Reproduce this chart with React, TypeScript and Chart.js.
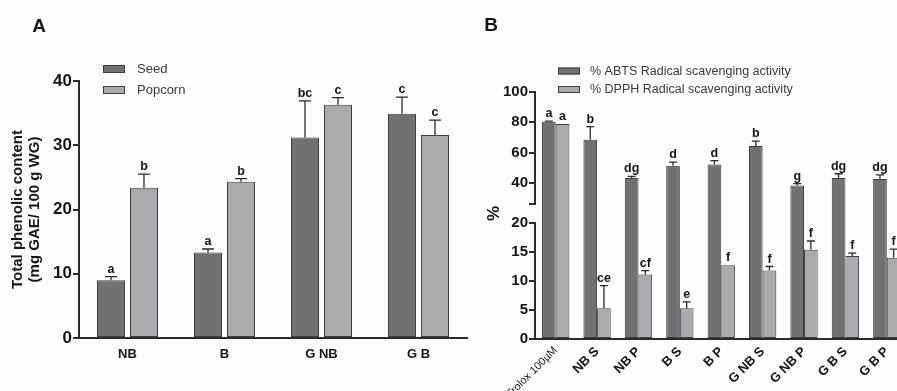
import React, { useEffect, useRef } from 'react';
import { Chart, registerables } from 'chart.js';

Chart.register(...registerables);

// ---------- Panel A data ----------
const A_CATEGORIES = ['NB', 'B', 'G NB', 'G B'];
const A_SERIES = ['Seed', 'Popcorn'];
const A_SEED = [9.0, 13.3, 31.2, 34.9];
const A_SEED_ERR = [0.55, 0.55, 5.7, 2.6];
const A_SEED_LETTERS = ['a', 'a', 'bc', 'c'];
const A_POPCORN = [23.4, 24.3, 36.3, 31.6];
const A_POPCORN_ERR = [2.1, 0.5, 1.1, 2.3];
const A_POPCORN_LETTERS = ['b', 'b', 'c', 'c'];
const A_Y_TICKS = [0, 10, 20, 30, 40];
const A_Y_TITLE = ['Total phenolic content', '(mg GAE/ 100 g WG)'];

// ---------- Panel B data ----------
const B_CATEGORIES = ['Trolox 100µM', 'NB S', 'NB P', 'B S', 'B P', 'G NB S', 'G NB P', 'G B S', 'G B P'];
const B_SERIES = ['% ABTS Radical scavenging activity', '% DPPH Radical scavenging activity'];
const B_ABTS = [80.3, 68.4, 43.1, 51.2, 52.1, 64.4, 38.2, 43.1, 42.6];
const B_ABTS_ERR = [0.5, 8.7, 1.1, 2.5, 2.6, 3.1, 1.2, 2.9, 2.7];
const B_ABTS_LETTERS = ['a', 'b', 'dg', 'd', 'd', 'b', 'g', 'dg', 'dg'];
const B_DPPH = [78.9, 5.3, 11.1, 5.3, 12.7, 11.8, 15.4, 14.3, 14.0];
const B_DPPH_ERR = [0, 3.9, 0.7, 1.1, 0, 0.7, 1.5, 0.5, 1.5];
const B_DPPH_LETTERS = ['a', 'ce', 'cf', 'e', 'f', 'f', 'f', 'f', 'f'];
const B_LOW_TICKS = [0, 5, 10, 15, 20];
const B_HIGH_TICKS = [40, 60, 80, 100];
const B_BREAK = [20, 26]; // lower segment top, upper segment bottom
const B_Y_TITLE = '%';

// ---------- styles ----------
const FAMILY = "'Liberation Sans', Arial, Helvetica, sans-serif";
const BG = '#fdfdfb';
const DARK = '#717171';
const LIGHT = '#ababad';
const EDGE = '#3e3e3e';
const AXIS = '#2b2b2b';
const TEXT = '#151515';
const LEGEND_TEXT = '#3a3a3a';

type SeriesAnn = { meta: number; values: number[]; errs: number[]; letters: string[] };

function annotate(chart: any, series: SeriesAnn[], toPixel: (v: number) => number, capHalf: number, font: string) {
  const ctx = chart.ctx as CanvasRenderingContext2D;
  ctx.save();
  ctx.strokeStyle = AXIS;
  ctx.lineWidth = 1.3;
  ctx.fillStyle = TEXT;
  ctx.font = font;
  ctx.textAlign = 'center';
  ctx.textBaseline = 'alphabetic';
  for (const s of series) {
    const meta = chart.getDatasetMeta(s.meta);
    s.values.forEach((v, i) => {
      const el = meta.data[i];
      if (!el) return;
      const x = el.x;
      const yv = toPixel(v);
      const ye = toPixel(v + s.errs[i]);
      if (s.errs[i] > 0) {
        ctx.beginPath();
        ctx.moveTo(x, yv);
        ctx.lineTo(x, ye);
        ctx.moveTo(x - capHalf, ye);
        ctx.lineTo(x + capHalf, ye);
        ctx.stroke();
      }
      ctx.fillText(s.letters[i], x, ye - 4);
    });
  }
  ctx.restore();
}

function drawLegend(
  ctx: CanvasRenderingContext2D,
  x: number,
  ys: number[],
  labels: string[],
  colors: string[],
  boxW: number,
  boxH: number,
  textGap: number,
  font: string
) {
  ctx.save();
  ctx.font = font;
  ctx.textAlign = 'left';
  ctx.textBaseline = 'middle';
  labels.forEach((lab, i) => {
    const y = ys[i];
    ctx.fillStyle = colors[i];
    ctx.fillRect(x, y - boxH / 2, boxW, boxH);
    ctx.strokeStyle = EDGE;
    ctx.lineWidth = 1;
    ctx.strokeRect(x + 0.5, y - boxH / 2 + 0.5, boxW - 1, boxH - 1);
    ctx.fillStyle = LEGEND_TEXT;
    ctx.fillText(lab, x + boxW + textGap, y + 0.5);
  });
  ctx.restore();
}

function drawPanelLetter(ctx: CanvasRenderingContext2D, letter: string, x: number, y: number) {
  ctx.save();
  ctx.font = `bold 19px ${FAMILY}`;
  ctx.fillStyle = TEXT;
  ctx.textAlign = 'center';
  ctx.textBaseline = 'middle';
  ctx.fillText(letter, x, y);
  ctx.restore();
}

function buildA(): any {
  const plugin = {
    id: 'panelA',
    afterDatasetsDraw(chart: any) {
      const y = chart.scales.y;
      annotate(
        chart,
        [
          { meta: 0, values: A_SEED, errs: A_SEED_ERR, letters: A_SEED_LETTERS },
          { meta: 1, values: A_POPCORN, errs: A_POPCORN_ERR, letters: A_POPCORN_LETTERS },
        ],
        (v) => y.getPixelForValue(v),
        6,
        `bold 12.5px ${FAMILY}`
      );
    },
    afterDraw(chart: any) {
      const { ctx, chartArea } = chart;
      drawPanelLetter(ctx, 'A', 39, 27);
      drawLegend(ctx, chartArea.left + 24, [chartArea.top - 12, chartArea.top + 9], A_SERIES, [DARK, LIGHT], 22, 8, 12, `13px ${FAMILY}`);
    },
  };
  return {
    type: 'bar',
    data: {
      labels: A_CATEGORIES,
      datasets: [
        { label: A_SERIES[0], data: A_SEED, backgroundColor: DARK, borderColor: EDGE, borderWidth: 1, borderSkipped: false },
        { label: A_SERIES[1], data: A_POPCORN, backgroundColor: LIGHT, borderColor: EDGE, borderWidth: 1, borderSkipped: false },
      ],
    },
    options: {
      animation: false,
      responsive: false,
      devicePixelRatio: 1,
      layout: { padding: { left: 0, right: 13, top: 81, bottom: 0 } },
      datasets: { bar: { categoryPercentage: 0.68, barPercentage: 0.85 } },
      plugins: { legend: { display: false }, tooltip: { enabled: false }, title: { display: false } },
      scales: {
        x: {
          offset: true,
          grid: { display: false, drawTicks: false },
          border: { color: AXIS, width: 2 },
          ticks: { color: TEXT, font: { family: FAMILY, size: 13, weight: 'bold' }, padding: 9 },
          afterFit: (s: any) => { s.height = 53; },
        },
        y: {
          min: A_Y_TICKS[0],
          max: A_Y_TICKS[A_Y_TICKS.length - 1],
          afterBuildTicks: (s: any) => { s.ticks = A_Y_TICKS.map((v) => ({ value: v })); },
          ticks: { autoSkip: false, color: TEXT, font: { family: FAMILY, size: 17, weight: 'bold' }, padding: 1 },
          grid: { display: true, drawOnChartArea: false, drawTicks: true, tickLength: 6, color: AXIS, lineWidth: 2 },
          border: { color: AXIS, width: 2 },
          title: {
            display: true,
            text: A_Y_TITLE,
            color: TEXT,
            font: { family: FAMILY, size: 15, weight: 'bold', lineHeight: 1.1 },
            padding: { top: 10, bottom: 0 },
          },
          afterFit: (s: any) => { s.width = 79; },
        },
      },
    },
    plugins: [plugin],
  };
}

function buildB(): any {
  const [LOW_MAX, HIGH_MIN] = B_BREAK;
  const segs = (values: number[]) => ({
    low: values.map((v) => [0, Math.min(v, LOW_MAX)]),
    gap: values.map((v) => (v > LOW_MAX ? [0, Math.min(1, (v - LOW_MAX) / (HIGH_MIN - LOW_MAX))] : null)),
    high: values.map((v) => (v > HIGH_MIN ? [HIGH_MIN, v] : null)),
  });
  const makeSets = (values: number[], label: string, color: string, stack: string) => {
    const s = segs(values);
    const common = { backgroundColor: color, borderColor: EDGE, borderSkipped: false, stack, label };
    return [
      {
        ...common,
        data: s.low,
        yAxisID: 'yLow',
        borderWidth: (c: any) => ({ left: 1, right: 1, bottom: 1, top: values[c.dataIndex] > LOW_MAX ? 0 : 1 }),
      },
      { ...common, data: s.gap, yAxisID: 'yGap', borderWidth: { left: 1, right: 1, top: 0, bottom: 0 } },
      { ...common, data: s.high, yAxisID: 'yHigh', borderWidth: { left: 1, right: 1, top: 1, bottom: 0 } },
    ];
  };
  const yCommon = {
    type: 'linear',
    position: 'left',
    stack: 'broken',
    afterFit: (s: any) => { s.width = 55; },
  };
  const tickFont = { family: FAMILY, size: 15, weight: 'bold' };
  const plugin = {
    id: 'panelB',
    afterDatasetsDraw(chart: any) {
      const lo = chart.scales.yLow;
      const hi = chart.scales.yHigh;
      const toPixel = (v: number) => {
        if (v <= LOW_MAX) return lo.getPixelForValue(v);
        if (v >= HIGH_MIN) return hi.getPixelForValue(v);
        const t = (v - LOW_MAX) / (HIGH_MIN - LOW_MAX);
        return lo.top + (hi.bottom - lo.top) * t;
      };
      annotate(
        chart,
        [
          { meta: 0, values: B_ABTS, errs: B_ABTS_ERR, letters: B_ABTS_LETTERS },
          { meta: 3, values: B_DPPH, errs: B_DPPH_ERR, letters: B_DPPH_LETTERS },
        ],
        toPixel,
        4,
        `bold 12.5px ${FAMILY}`
      );
    },
    afterDraw(chart: any) {
      const { ctx, chartArea } = chart;
      drawPanelLetter(ctx, 'B', 11, 26);
      drawLegend(ctx, chartArea.left + 23, [chartArea.top - 21, chartArea.top - 2.5], B_SERIES, [DARK, LIGHT], 22, 7, 10, `12.5px ${FAMILY}`);
    },
  };
  return {
    type: 'bar',
    data: {
      labels: B_CATEGORIES,
      datasets: [
        ...makeSets(B_ABTS, B_SERIES[0], DARK, 'abts'),
        ...makeSets(B_DPPH, B_SERIES[1], LIGHT, 'dpph'),
      ],
    },
    options: {
      animation: false,
      responsive: false,
      devicePixelRatio: 1,
      layout: { padding: { left: 0, right: 12.5, top: 92, bottom: 0 } },
      datasets: { bar: { categoryPercentage: 0.66, barPercentage: 1.0 } },
      plugins: { legend: { display: false }, tooltip: { enabled: false }, title: { display: false } },
      scales: {
        x: {
          offset: true,
          grid: { display: false, drawTicks: false },
          border: { color: AXIS, width: 2 },
          ticks: {
            autoSkip: false,
            minRotation: 45,
            maxRotation: 45,
            padding: 5,
            color: TEXT,
            font: (c: any) =>
              c.index === 0
                ? { family: FAMILY, size: 11, weight: 'normal' }
                : { family: FAMILY, size: 13, weight: 'bold' },
          },
          afterFit: (s: any) => { s.height = 52; },
        },
        yLow: {
          ...yCommon,
          stackWeight: 116,
          min: B_LOW_TICKS[0],
          max: LOW_MAX,
          afterBuildTicks: (s: any) => { s.ticks = B_LOW_TICKS.map((v) => ({ value: v })); },
          ticks: { autoSkip: false, color: TEXT, font: tickFont, padding: 1 },
          grid: { display: true, drawOnChartArea: false, drawTicks: true, tickLength: 6, color: AXIS, lineWidth: 2 },
          border: { color: AXIS, width: 2 },
        },
        yGap: {
          ...yCommon,
          stackWeight: 19,
          min: 0,
          max: 1,
          ticks: { display: false },
          grid: { display: false, drawTicks: false },
          border: { display: false },
          title: {
            display: true,
            text: B_Y_TITLE,
            color: TEXT,
            font: { family: FAMILY, size: 17, weight: 'bold' },
            padding: { top: 4, bottom: 0 },
          },
        },
        yHigh: {
          ...yCommon,
          stackWeight: 112,
          min: HIGH_MIN,
          max: B_HIGH_TICKS[B_HIGH_TICKS.length - 1],
          afterBuildTicks: (s: any) => { s.ticks = [HIGH_MIN, ...B_HIGH_TICKS].map((v) => ({ value: v })); },
          ticks: {
            autoSkip: false,
            color: TEXT,
            font: tickFont,
            padding: 1,
            callback: (v: any) => (v === HIGH_MIN ? '' : String(v)),
          },
          grid: { display: true, drawOnChartArea: false, drawTicks: true, tickLength: 6, color: AXIS, lineWidth: 2 },
          border: { color: AXIS, width: 2 },
        },
      },
    },
    plugins: [plugin],
  };
}

export default function App() {
  const aRef = useRef<HTMLCanvasElement | null>(null);
  const bRef = useRef<HTMLCanvasElement | null>(null);
  useEffect(() => {
    const a = new Chart(aRef.current as HTMLCanvasElement, buildA());
    const b = new Chart(bRef.current as HTMLCanvasElement, buildB());
    return () => {
      a.destroy();
      b.destroy();
    };
  }, []);
  return (
    <div
      style={{
        position: 'absolute',
        left: 0,
        top: 0,
        width: 897,
        height: 391,
        overflow: 'hidden',
        background: BG,
      }}
    >
      <canvas ref={aRef} width={480} height={391} style={{ position: 'absolute', left: 0, top: 0, width: 480, height: 391 }} />
      <canvas ref={bRef} width={440} height={391} style={{ position: 'absolute', left: 480, top: 0, width: 440, height: 391 }} />
    </div>
  );
}
